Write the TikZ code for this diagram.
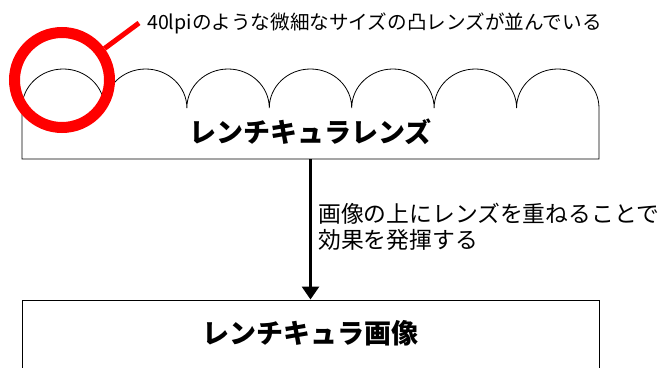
\documentclass[tikz,border=0pt]{standalone}
\usepackage{fontspec}
\newfontfamily\jp{Noto Sans CJK JP}
\newfontfamily\jpblack{Noto Sans CJK JP Black}
\usetikzlibrary{arrows.meta}
\tikzset{
  lens/.style={draw=black, line width=0.8pt},
  boxline/.style={draw=black, line width=1pt},
  titletext/.style={font=\jpblack\fontsize{27}{30}\selectfont, inner sep=0pt},
  notetext/.style={font=\jp\fontsize{19.6}{22}\selectfont, inner sep=0pt},
  labeltext/.style={font=\jp\fontsize{22.8}{25.5}\selectfont, inner sep=0pt, align=left},
  redring/.style={circle, draw=red, line width=11pt, minimum size=95pt, inner sep=0pt},
  redline/.style={draw=red, line width=5pt},
  flow/.style={draw=black, line width=3pt, -{Triangle[width=17pt,length=13pt]}}
}
\begin{document}
\begin{tikzpicture}[x=1pt,y=1pt]
\useasboundingbox (0,0) rectangle (669,-367);
\clip (0,0) rectangle (669,-367);
% lenticular lens outline
\draw[lens] (22,-159) -- (22,-108)
  \foreach \i in {1,...,7} { arc[start angle=180, end angle=0, x radius=41.214, y radius=39] }
  -- (599,-159) -- cycle;
\coordinate (lensbot) at (310.5,-159);
\node[titletext] (lenstitle) at (310.5,-132) {レンチキュラレンズ};
% bottom box
\node[boxline, minimum width=577pt, minimum height=120pt, anchor=north, inner sep=0pt] (img) at (310.5,-299.5) {};
\node[titletext] (imgtitle) at (310.5,-333) {レンチキュラ画像};
% arrow
\draw[flow] (lensbot) -- (img.north);
\node[labeltext, anchor=west] (lbl) at (318,-227) {画像の上にレンズを重ねることで\\効果を発揮する};
% red callout
\node[redring] (ring) at (62,-80) {};
\node[notetext, anchor=west] (note) at (147,-23) {40lpiのような微細なサイズの凸レンズが並んでいる};
\coordinate (noteend) at (139,-23);
\draw[redline] (ring) -- (noteend);
\end{tikzpicture}
\end{document}
